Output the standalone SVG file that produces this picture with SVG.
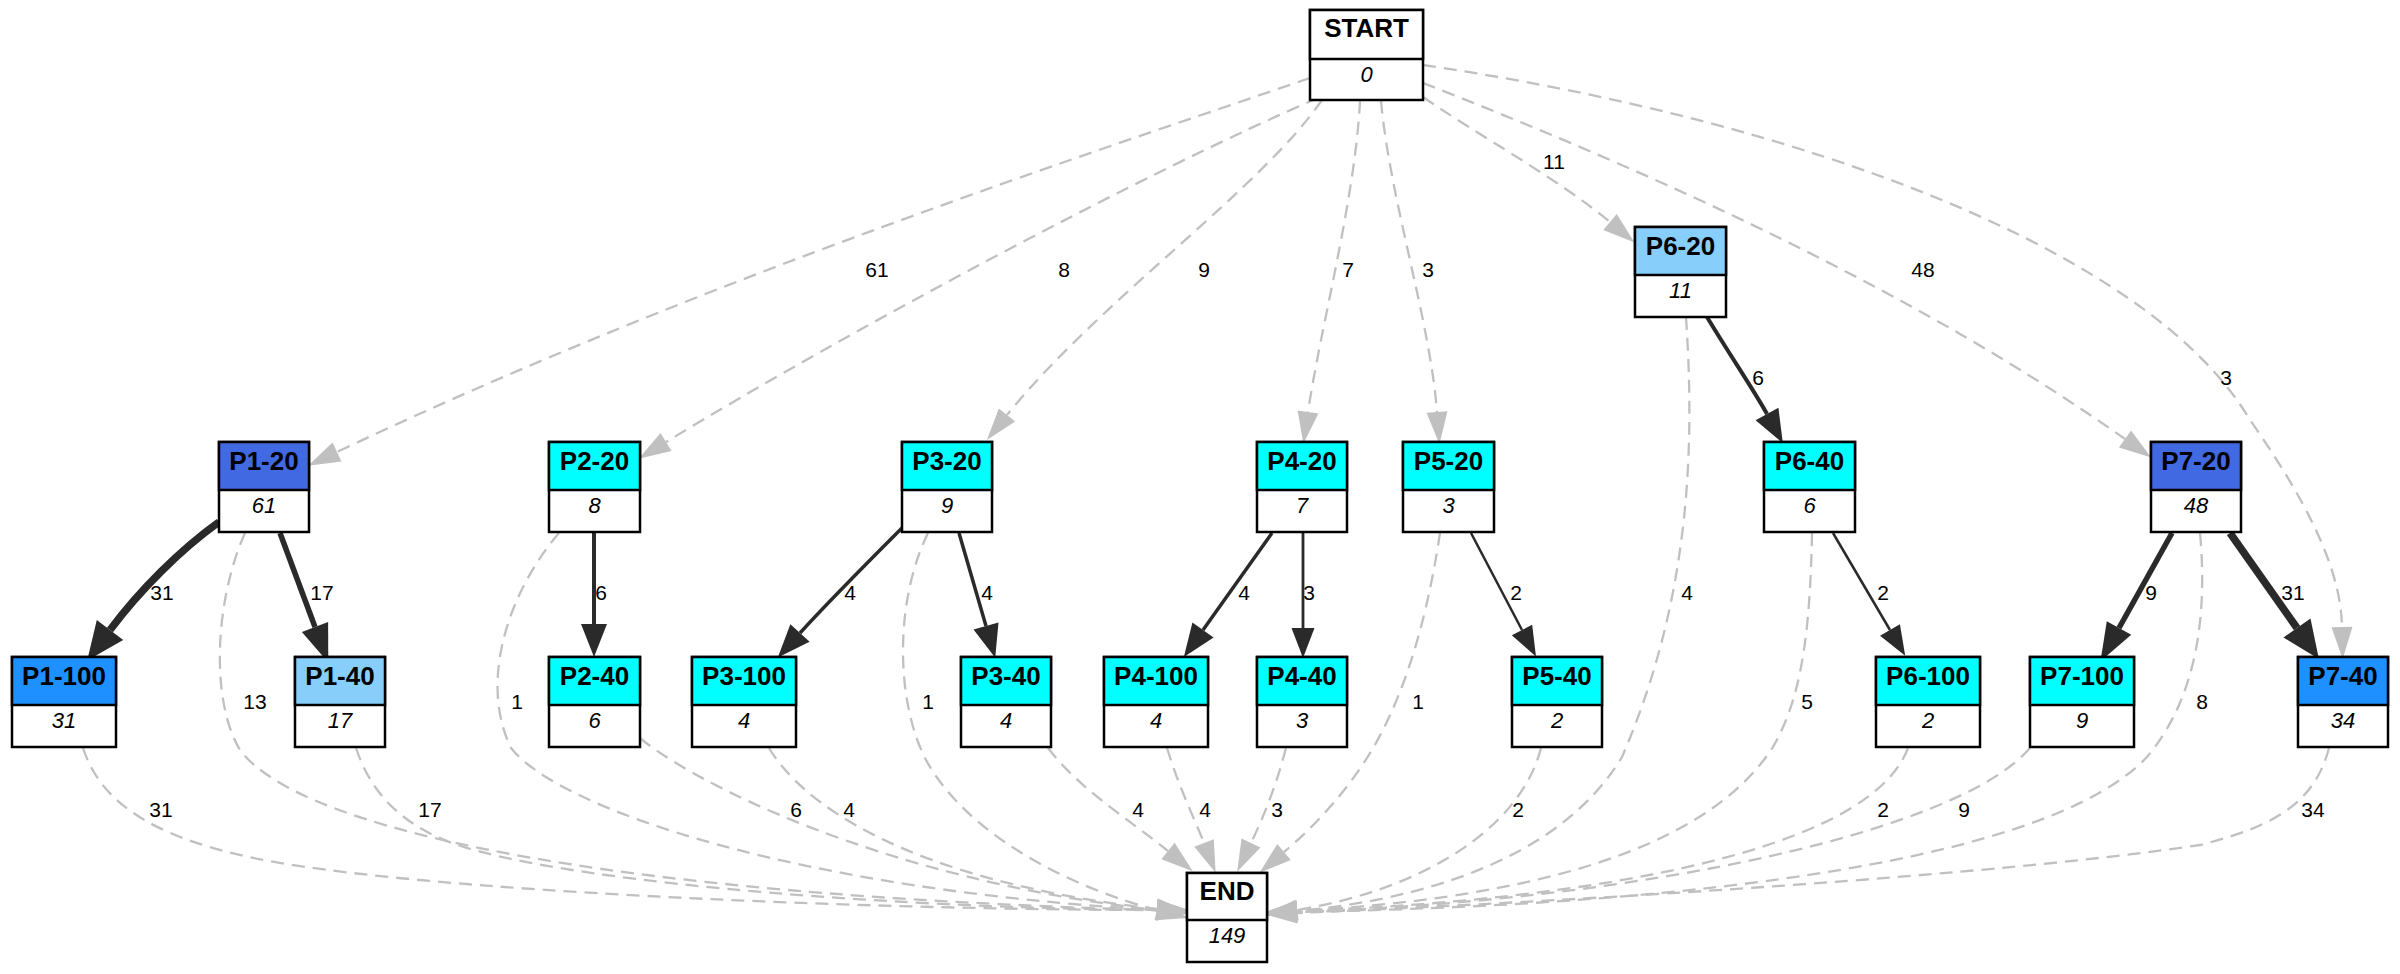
<svg xmlns="http://www.w3.org/2000/svg" width="2400" height="974" viewBox="0 0 2400 974">
<style>
.bg{fill:#fff}
.box{stroke:#000;stroke-width:2.5}
.ht{font-family:"Liberation Sans",Arial,sans-serif;font-weight:bold;font-size:26px;text-anchor:middle;fill:#000}
.bt{font-family:"Liberation Sans",Arial,sans-serif;font-style:italic;font-size:22px;text-anchor:middle;fill:#000}
.d{fill:none;stroke:#c0c0c0;stroke-width:2.3;stroke-dasharray:13,8}
.s{fill:none;stroke:#2a2a2a}
.lb{font-family:"Liberation Sans",Arial,sans-serif;font-size:21px;text-anchor:middle;fill:#000}
</style>
<defs>
<marker id="ag" markerUnits="userSpaceOnUse" markerWidth="32" markerHeight="22" viewBox="0 -11 32 22" refX="0" refY="0" orient="auto" overflow="visible"><path d="M0,-10.5L32,0L0,10.5z" fill="#c0c0c0"/></marker>
<marker id="a1" markerUnits="userSpaceOnUse" markerWidth="30" markerHeight="24" viewBox="0 -12 30 24" refX="0" refY="0" orient="auto" overflow="visible"><path d="M0,-11.5L30,0L0,11.5z" fill="#2a2a2a"/></marker>
<marker id="a2" markerUnits="userSpaceOnUse" markerWidth="33" markerHeight="26" viewBox="0 -13 33 26" refX="0" refY="0" orient="auto" overflow="visible"><path d="M0,-13L33,0L0,13z" fill="#2a2a2a"/></marker>
<marker id="a3" markerUnits="userSpaceOnUse" markerWidth="38" markerHeight="28" viewBox="0 -14 38 28" refX="0" refY="0" orient="auto" overflow="visible"><path d="M0,-14L38,0L0,14z" fill="#2a2a2a"/></marker>
<marker id="a4" markerUnits="userSpaceOnUse" markerWidth="38" markerHeight="34" viewBox="0 -17 38 34" refX="0" refY="0" orient="auto" overflow="visible"><path d="M0,-16.5L38,0L0,16.5z" fill="#2a2a2a"/></marker>
</defs>
<rect class="bg" x="0" y="0" width="2400" height="974"/>
<g id="edges">
<path class="d" marker-end="url(#ag)" d="M1310,78 C1100,150 700,280 337,452"/>
<path class="d" marker-end="url(#ag)" d="M1318,98 C1150,170 850,330 666,442"/>
<path class="d" marker-end="url(#ag)" d="M1322,100 C1260,190 1100,300 1007,415"/>
<path class="d" marker-end="url(#ag)" d="M1360,101 C1355,200 1320,330 1308,412"/>
<path class="d" marker-end="url(#ag)" d="M1381,101 C1390,200 1430,320 1437,412"/>
<path class="d" marker-end="url(#ag)" d="M1423,97 C1470,130 1560,180 1610,222"/>
<path class="d" marker-end="url(#ag)" d="M1423,83 C1620,160 1900,280 2125,439"/>
<path class="d" marker-end="url(#ag)" d="M1423,65 C1800,120 2150,250 2250,420 C2320,520 2341,580 2342,627"/>
<path class="s" stroke-width="7.5" marker-end="url(#a4)" d="M219,522 C180,550 140,590 110,630"/>
<path class="s" stroke-width="5.5" marker-end="url(#a3)" d="M280,533 L315,627"/>
<path class="s" stroke-width="4" marker-end="url(#a2)" d="M594,532 L594,624"/>
<path class="s" stroke-width="3.5" marker-end="url(#a2)" d="M902,528 C870,560 830,600 800,633"/>
<path class="s" stroke-width="3.5" marker-end="url(#a2)" d="M959,533 L986,626"/>
<path class="s" stroke-width="3.5" marker-end="url(#a2)" d="M1272,533 L1203,630"/>
<path class="s" stroke-width="2.8" marker-end="url(#a1)" d="M1303,533 L1303,628"/>
<path class="s" stroke-width="2.5" marker-end="url(#a1)" d="M1471,533 L1522,630"/>
<path class="s" stroke-width="4" marker-end="url(#a2)" d="M1707,317 C1728,352 1755,392 1767,414"/>
<path class="s" stroke-width="2.5" marker-end="url(#a1)" d="M1833,533 L1890,630"/>
<path class="s" stroke-width="5.5" marker-end="url(#a3)" d="M2172,533 L2119,628"/>
<path class="s" stroke-width="7.5" marker-end="url(#a4)" d="M2230,533 L2297,628"/>
<path class="d" marker-end="url(#ag)" d="M83,748 C100,800 150,845 306,867 C500,895 900,910 1157,910"/>
<path class="d" marker-end="url(#ag)" d="M356,748 C370,790 400,830 474,850 C600,885 900,908 1157,910"/>
<path class="d" marker-end="url(#ag)" d="M245,533 C215,600 210,700 240,750 C300,830 600,895 1157,910"/>
<path class="d" marker-end="url(#ag)" d="M559,533 C510,590 478,680 511,748 C560,810 800,890 1157,910"/>
<path class="d" marker-end="url(#ag)" d="M640,738 C690,780 880,880 1157,910"/>
<path class="d" marker-end="url(#ag)" d="M769,748 C800,800 900,880 1157,909"/>
<path class="d" marker-end="url(#ag)" d="M928,533 C895,600 895,700 926,760 C970,840 1080,890 1157,910"/>
<path class="d" marker-end="url(#ag)" d="M1048,748 C1080,790 1130,820 1168,851"/>
<path class="d" marker-end="url(#ag)" d="M1167,748 C1180,790 1195,820 1204,843"/>
<path class="d" marker-end="url(#ag)" d="M1286,748 C1275,790 1262,820 1251,843"/>
<path class="d" marker-end="url(#ag)" d="M1440,533 C1430,600 1410,690 1367,758 C1340,800 1310,830 1284,852"/>
<path class="d" marker-end="url(#ag)" d="M1541,748 C1520,830 1420,890 1297,910"/>
<path class="d" marker-end="url(#ag)" d="M1686,317 C1695,450 1690,600 1622,757 C1560,860 1420,900 1297,911"/>
<path class="d" marker-end="url(#ag)" d="M1812,533 C1810,640 1800,700 1773,747 C1700,860 1500,900 1297,911"/>
<path class="d" marker-end="url(#ag)" d="M1908,748 C1870,850 1600,900 1297,911"/>
<path class="d" marker-end="url(#ag)" d="M2030,748 C1960,830 1650,900 1297,912"/>
<path class="d" marker-end="url(#ag)" d="M2200,533 C2208,620 2195,700 2147,757 C2050,860 1700,905 1297,912"/>
<path class="d" marker-end="url(#ag)" d="M2329,748 C2315,800 2280,825 2200,845 C2000,875 1600,900 1297,913"/>
<text class="lb" x="877" y="277">61</text>
<text class="lb" x="1064" y="277">8</text>
<text class="lb" x="1204" y="277">9</text>
<text class="lb" x="1348" y="277">7</text>
<text class="lb" x="1428" y="277">3</text>
<text class="lb" x="1554" y="169">11</text>
<text class="lb" x="1923" y="277">48</text>
<text class="lb" x="2226" y="385">3</text>
<text class="lb" x="1758" y="385">6</text>
<text class="lb" x="162" y="600">31</text>
<text class="lb" x="322" y="600">17</text>
<text class="lb" x="601" y="600">6</text>
<text class="lb" x="850" y="600">4</text>
<text class="lb" x="987" y="600">4</text>
<text class="lb" x="1244" y="600">4</text>
<text class="lb" x="1309" y="600">3</text>
<text class="lb" x="1516" y="600">2</text>
<text class="lb" x="1687" y="600">4</text>
<text class="lb" x="1883" y="600">2</text>
<text class="lb" x="2151" y="600">9</text>
<text class="lb" x="2293" y="600">31</text>
<text class="lb" x="255" y="709">13</text>
<text class="lb" x="517" y="709">1</text>
<text class="lb" x="928" y="709">1</text>
<text class="lb" x="1418" y="709">1</text>
<text class="lb" x="1807" y="709">5</text>
<text class="lb" x="2202" y="709">8</text>
<text class="lb" x="161" y="817">31</text>
<text class="lb" x="430" y="817">17</text>
<text class="lb" x="796" y="817">6</text>
<text class="lb" x="849" y="817">4</text>
<text class="lb" x="1138" y="817">4</text>
<text class="lb" x="1205" y="817">4</text>
<text class="lb" x="1277" y="817">3</text>
<text class="lb" x="1518" y="817">2</text>
<text class="lb" x="1883" y="817">2</text>
<text class="lb" x="1964" y="817">9</text>
<text class="lb" x="2313" y="817">34</text>
</g>
<g id="node-START"><rect class="box" x="1310" y="10" width="113" height="90" fill="#fff"/><rect class="box" x="1310" y="10" width="113" height="49" fill="#fff"/><text class="ht" x="1366.5" y="37">START</text><text class="bt" x="1366.5" y="82">0</text></g>
<g id="node-P1-20"><rect class="box" x="219" y="442" width="90" height="90" fill="#fff"/><rect class="box" x="219" y="442" width="90" height="48" fill="#4169e1"/><text class="ht" x="264" y="470">P1-20</text><text class="bt" x="264" y="513">61</text></g>
<g id="node-P2-20"><rect class="box" x="549" y="442" width="91" height="90" fill="#fff"/><rect class="box" x="549" y="442" width="91" height="48" fill="#00ffff"/><text class="ht" x="594.5" y="470">P2-20</text><text class="bt" x="594.5" y="513">8</text></g>
<g id="node-P3-20"><rect class="box" x="902" y="442" width="90" height="90" fill="#fff"/><rect class="box" x="902" y="442" width="90" height="48" fill="#00ffff"/><text class="ht" x="947" y="470">P3-20</text><text class="bt" x="947" y="513">9</text></g>
<g id="node-P4-20"><rect class="box" x="1257" y="442" width="90" height="90" fill="#fff"/><rect class="box" x="1257" y="442" width="90" height="48" fill="#00ffff"/><text class="ht" x="1302" y="470">P4-20</text><text class="bt" x="1302" y="513">7</text></g>
<g id="node-P5-20"><rect class="box" x="1403" y="442" width="91" height="90" fill="#fff"/><rect class="box" x="1403" y="442" width="91" height="48" fill="#00ffff"/><text class="ht" x="1448.5" y="470">P5-20</text><text class="bt" x="1448.5" y="513">3</text></g>
<g id="node-P6-20"><rect class="box" x="1635" y="227" width="91" height="90" fill="#fff"/><rect class="box" x="1635" y="227" width="91" height="48" fill="#87cefa"/><text class="ht" x="1680.5" y="255">P6-20</text><text class="bt" x="1680.5" y="298">11</text></g>
<g id="node-P6-40"><rect class="box" x="1764" y="442" width="91" height="90" fill="#fff"/><rect class="box" x="1764" y="442" width="91" height="48" fill="#00ffff"/><text class="ht" x="1809.5" y="470">P6-40</text><text class="bt" x="1809.5" y="513">6</text></g>
<g id="node-P7-20"><rect class="box" x="2151" y="442" width="90" height="90" fill="#fff"/><rect class="box" x="2151" y="442" width="90" height="48" fill="#4169e1"/><text class="ht" x="2196" y="470">P7-20</text><text class="bt" x="2196" y="513">48</text></g>
<g id="node-P1-100"><rect class="box" x="12" y="657" width="104" height="90" fill="#fff"/><rect class="box" x="12" y="657" width="104" height="48" fill="#1e90ff"/><text class="ht" x="64" y="685">P1-100</text><text class="bt" x="64" y="728">31</text></g>
<g id="node-P1-40"><rect class="box" x="295" y="657" width="90" height="90" fill="#fff"/><rect class="box" x="295" y="657" width="90" height="48" fill="#87cefa"/><text class="ht" x="340" y="685">P1-40</text><text class="bt" x="340" y="728">17</text></g>
<g id="node-P2-40"><rect class="box" x="549" y="657" width="91" height="90" fill="#fff"/><rect class="box" x="549" y="657" width="91" height="48" fill="#00ffff"/><text class="ht" x="594.5" y="685">P2-40</text><text class="bt" x="594.5" y="728">6</text></g>
<g id="node-P3-100"><rect class="box" x="692" y="657" width="104" height="90" fill="#fff"/><rect class="box" x="692" y="657" width="104" height="48" fill="#00ffff"/><text class="ht" x="744" y="685">P3-100</text><text class="bt" x="744" y="728">4</text></g>
<g id="node-P3-40"><rect class="box" x="961" y="657" width="90" height="90" fill="#fff"/><rect class="box" x="961" y="657" width="90" height="48" fill="#00ffff"/><text class="ht" x="1006" y="685">P3-40</text><text class="bt" x="1006" y="728">4</text></g>
<g id="node-P4-100"><rect class="box" x="1104" y="657" width="104" height="90" fill="#fff"/><rect class="box" x="1104" y="657" width="104" height="48" fill="#00ffff"/><text class="ht" x="1156" y="685">P4-100</text><text class="bt" x="1156" y="728">4</text></g>
<g id="node-P4-40"><rect class="box" x="1257" y="657" width="90" height="90" fill="#fff"/><rect class="box" x="1257" y="657" width="90" height="48" fill="#00ffff"/><text class="ht" x="1302" y="685">P4-40</text><text class="bt" x="1302" y="728">3</text></g>
<g id="node-P5-40"><rect class="box" x="1512" y="657" width="90" height="90" fill="#fff"/><rect class="box" x="1512" y="657" width="90" height="48" fill="#00ffff"/><text class="ht" x="1557" y="685">P5-40</text><text class="bt" x="1557" y="728">2</text></g>
<g id="node-P6-100"><rect class="box" x="1876" y="657" width="104" height="90" fill="#fff"/><rect class="box" x="1876" y="657" width="104" height="48" fill="#00ffff"/><text class="ht" x="1928" y="685">P6-100</text><text class="bt" x="1928" y="728">2</text></g>
<g id="node-P7-100"><rect class="box" x="2030" y="657" width="104" height="90" fill="#fff"/><rect class="box" x="2030" y="657" width="104" height="48" fill="#00ffff"/><text class="ht" x="2082" y="685">P7-100</text><text class="bt" x="2082" y="728">9</text></g>
<g id="node-P7-40"><rect class="box" x="2298" y="657" width="90" height="90" fill="#fff"/><rect class="box" x="2298" y="657" width="90" height="48" fill="#1e90ff"/><text class="ht" x="2343" y="685">P7-40</text><text class="bt" x="2343" y="728">34</text></g>
<g id="node-END"><rect class="box" x="1187" y="873" width="80" height="89" fill="#fff"/><rect class="box" x="1187" y="873" width="80" height="47" fill="#fff"/><text class="ht" x="1227" y="900">END</text><text class="bt" x="1227" y="943">149</text></g>
</svg>
